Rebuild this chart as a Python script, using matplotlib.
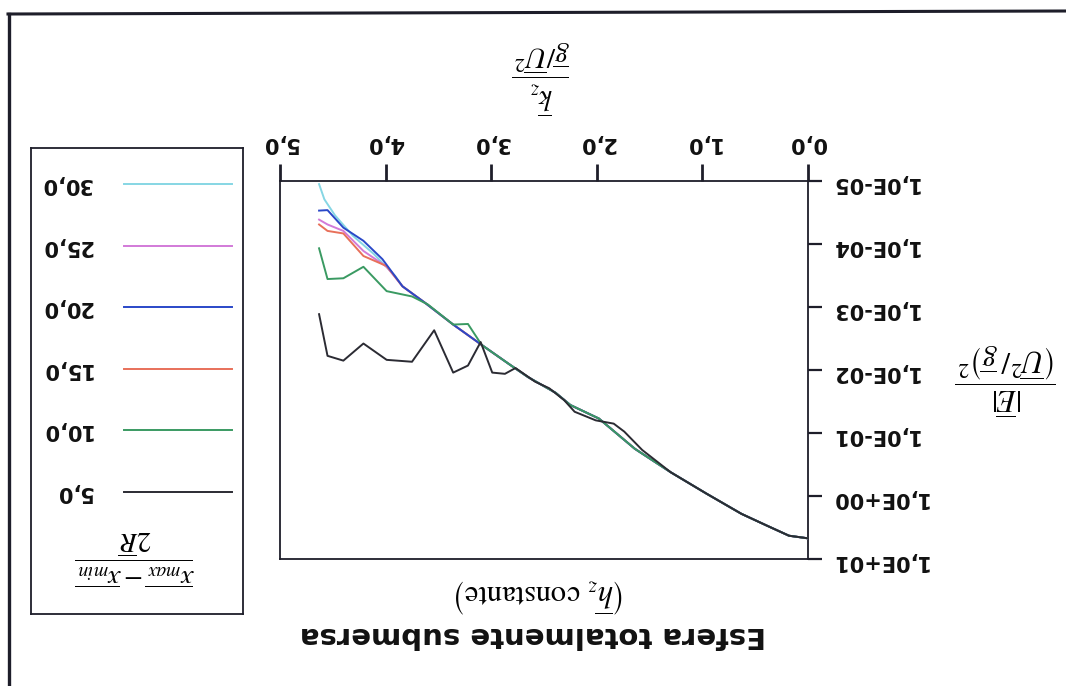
import matplotlib
matplotlib.use("Agg")
import matplotlib.pyplot as plt
from matplotlib.lines import Line2D
from matplotlib.ticker import FuncFormatter, FixedLocator

plt.rcParams['mathtext.fontset'] = 'stix'
plt.rcParams['font.family'] = ['DejaVu Sans']

# ---------------- data ----------------
series_labels = ["5,0", "10,0", "15,0", "20,0", "25,0", "30,0"]
series_colors = ["#2b2b33", "#3a9a62", "#e8705a", "#2a48c8", "#d27ad8", "#86d6e4"]

# shared tail (all series coincide at low wave numbers)
k_tail = [3.84, 3.63, 3.36, 3.09, 2.82, 2.65, 2.39, 2.25, 1.98, 1.64, 1.30, 0.96, 0.63, 0.39, 0.18, 0.0]
E_tail = [4.7e-4, 8.5e-4, 1.9e-3, 4.0e-3, 8.3e-3, 1.3e-2, 2.3e-2, 3.6e-2, 5.9e-2, 0.178, 0.42, 0.92, 1.92, 2.95, 4.27, 4.7]

k_5 = [4.63, 4.55, 4.40, 4.21, 3.99, 3.75, 3.54, 3.36, 3.22, 3.10, 2.99, 2.87, 2.77, 2.585, 2.45, 2.31, 2.21, 2.01, 1.84, 1.74, 1.57]
E_5 = [1.3e-3, 5.96e-3, 7.1e-3, 3.8e-3, 6.9e-3, 7.4e-3, 2.34e-3, 1.1e-2, 8.5e-3, 3.6e-3, 1.1e-2, 1.15e-2, 9.3e-3, 1.53e-2, 1.95e-2, 3.0e-2, 4.6e-2, 6.3e-2, 7.1e-2, 9.5e-2, 0.186]
k_10 = [4.63, 4.55, 4.40, 4.21, 3.99, 3.75, 3.60, 3.36, 3.22]
E_10 = [1.17e-4, 3.6e-4, 3.5e-4, 2.3e-4, 5.6e-4, 6.8e-4, 9.1e-4, 1.9e-3, 1.86e-3]
k_15 = [4.63, 4.55, 4.40, 4.21, 3.99]
E_15 = [4.9e-5, 6.2e-5, 6.8e-5, 1.55e-4, 2.24e-4]
k_20 = [4.63, 4.55, 4.40, 4.21, 4.03]
E_20 = [2.95e-5, 2.9e-5, 5.5e-5, 8.9e-5, 1.74e-4]
k_25 = [4.63, 4.55, 4.40, 4.21, 3.99]
E_25 = [4.1e-5, 4.9e-5, 6.2e-5, 1.29e-4, 2.3e-4]
k_30 = [4.63, 4.58, 4.48, 4.31, 4.11, 3.91]
E_30 = [1.12e-5, 1.95e-5, 3.5e-5, 7.4e-5, 1.45e-4, 3.2e-4]

x_ticks = [0.0, 1.0, 2.0, 3.0, 4.0, 5.0]
y_ticks = [1e-5, 1e-4, 1e-3, 1e-2, 1e-1, 1e0, 1e1]

# ---------------- figure ----------------
W, H = 1066, 686
fig = plt.figure(figsize=(W / 100, H / 100), dpi=100)
fig.patch.set_facecolor("white")

def fx(px):
    return px / W

def fy(py):
    return 1 - py / H

INK = "#1e1e2a"

# scan frame (top and left edges)
fig.add_artist(Line2D([fx(8), 1.0], [fy(14), fy(11)], color=INK, lw=2.2))
fig.add_artist(Line2D([fx(8.5), fx(8.5)], [fy(14), 0.0], color=INK, lw=2.4))

# main axes (the whole chart is shown rotated by 180 degrees)
ax = fig.add_axes([fx(280), fy(559), fx(808) - fx(280), fy(181) - fy(559)])
ax.set_yscale("log")
ax.set_xlim(5.0, 0.0)
ax.set_ylim(1e1, 1e-5)

heads = {
    "5,0": (k_5, E_5),
    "10,0": (k_10, E_10),
    "15,0": (k_15, E_15),
    "20,0": (k_20, E_20),
    "25,0": (k_25, E_25),
    "30,0": (k_30, E_30),
}
tail_start = {"5,0": 10, "10,0": 3}
draw_order = ["30,0", "25,0", "15,0", "20,0", "10,0", "5,0"]
for lab in draw_order:
    i = series_labels.index(lab)
    kh, Eh = heads[lab]
    s = tail_start.get(lab, 0)
    ax.plot(kh + k_tail[s:], Eh + E_tail[s:], color=series_colors[i], lw=1.4, zorder=3)

ax.xaxis.tick_top()
ax.yaxis.tick_right()
ax.xaxis.set_major_locator(FixedLocator(x_ticks))
ax.yaxis.set_major_locator(FixedLocator(y_ticks))
ax.yaxis.set_minor_locator(FixedLocator([]))
ax.xaxis.set_major_formatter(FuncFormatter(lambda v, p: f"{v:.1f}".replace(".", ",")))
ax.yaxis.set_major_formatter(FuncFormatter(lambda v, p: f"{v:.1E}".replace(".", ",")))
ax.tick_params(axis="x", direction="out", length=12, width=2.0, pad=8, color=INK,
               labelsize=15, labelrotation=180, labelcolor="#111111")
ax.tick_params(axis="y", direction="out", length=10, width=1.6, pad=6, color=INK,
               labelsize=15, labelrotation=180, labelcolor="#111111")
for lab in ax.get_xticklabels() + ax.get_yticklabels():
    lab.set_fontweight("bold")
for sp in ax.spines.values():
    sp.set_color(INK)
    sp.set_linewidth(1.3)

# axis labels and titles (rotated 180 degrees)
fig.text(fx(541), fy(78), r"$\dfrac{\overline{k}_z}{\overline{g}/\overline{U}^2}$",
         rotation=180, ha="center", va="center", fontsize=21)
fig.text(fx(1006), fy(380), r"$\dfrac{|\overline{E}|}{\left(\overline{U}^2/\,\overline{g}\right)^2}$",
         rotation=180, ha="center", va="center", fontsize=22)
fig.text(fx(540), fy(596), r"$\left(\overline{h}_z\ \mathrm{constante}\right)$",
         rotation=180, ha="center", va="center", fontsize=22)
fig.text(fx(533), fy(635), "Esfera totalmente submersa",
         rotation=180, ha="center", va="center", fontsize=21, fontweight="bold", color="#111111")

# legend (drawn manually, rotated 180 degrees)
lax = fig.add_axes([fx(31), fy(614), fx(243) - fx(31), fy(148) - fy(614)])
lax.set_xlim(31, 243)
lax.set_ylim(614, 148)
lax.set_xticks([])
lax.set_yticks([])
for sp in lax.spines.values():
    sp.set_color(INK)
    sp.set_linewidth(1.3)
legend_order = ["30,0", "25,0", "20,0", "15,0", "10,0", "5,0"]
for j, lab in enumerate(legend_order):
    i = series_labels.index(lab)
    yy = 184 + j * 61.6
    lax.plot([124, 232], [yy, yy], color=series_colors[i], lw=1.4)
    lax.text(92, yy, lab, rotation=180, ha="right", va="center", fontsize=15,
             fontweight="bold", color="#111111")
lax.text(135, 558, r"$\dfrac{\overline{x_{max}}-\overline{x_{min}}}{2\overline{R}}$",
         rotation=180, ha="center", va="center", fontsize=20)

fig.savefig("out.png", dpi=100, facecolor="white")
